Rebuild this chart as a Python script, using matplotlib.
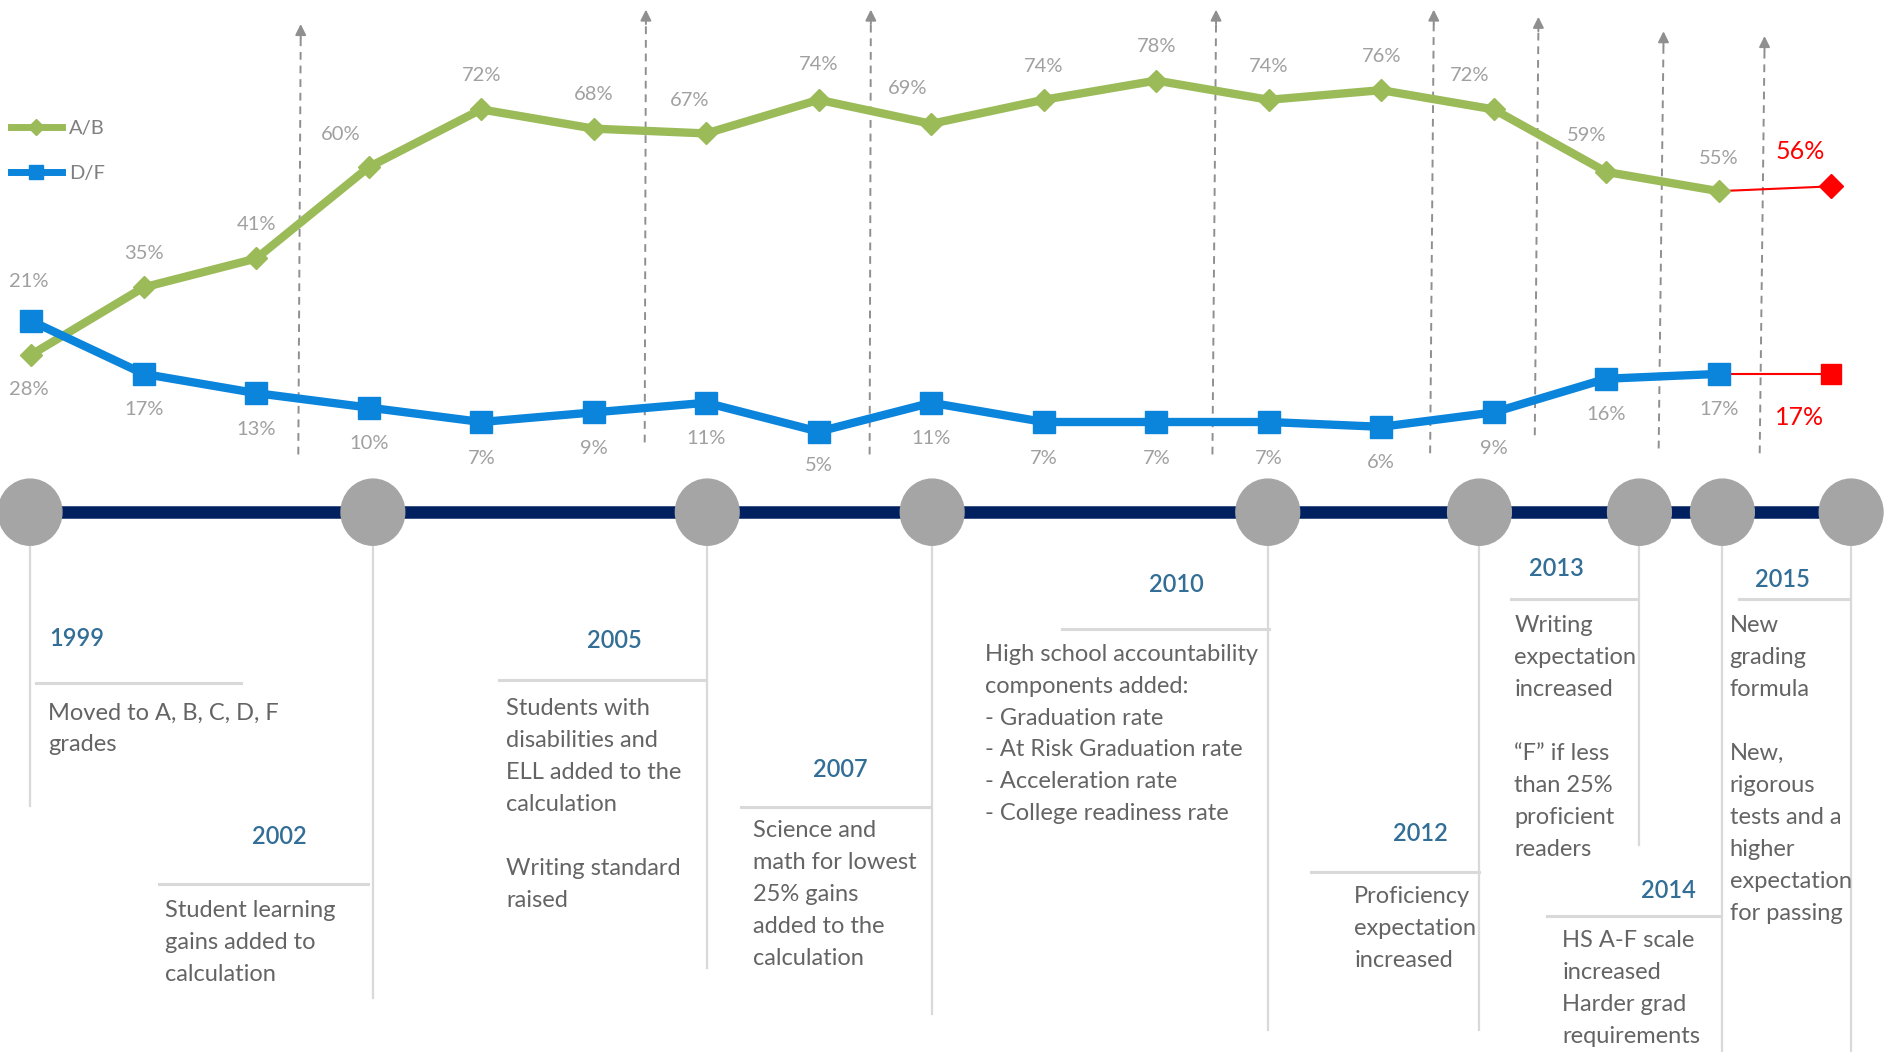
import matplotlib.pyplot as plt
from matplotlib.patches import Ellipse
from matplotlib.lines import Line2D

plt.rcParams['font.family'] = ['Lato', 'DejaVu Sans']

# --- data -------------------------------------------------------------
years = list(range(1999, 2015))
ab_pct = [21, 35, 41, 60, 72, 68, 67, 74, 69, 74, 78, 74, 76, 72, 59, 55]
df_pct = [28, 17, 13, 10, 7, 9, 11, 5, 11, 7, 7, 7, 6, 9, 16, 17]
proj_year = 2015
proj_ab = 56
proj_df = 17

milestone_years = ['1999', '2002', '2005', '2007', '2010', '2012', '2013', '2014', '2015']
milestone_notes = [
    ['Moved to A, B, C, D, F', 'grades'],
    ['Student learning', 'gains added to', 'calculation'],
    ['Students with', 'disabilities and', 'ELL added to the', 'calculation', '',
     'Writing standard', 'raised'],
    ['Science and', 'math for lowest', '25% gains', 'added to the', 'calculation'],
    ['High school accountability', 'components added:', '- Graduation rate',
     '- At Risk Graduation rate', '- Acceleration rate', '- College readiness rate'],
    ['Proficiency', 'expectation', 'increased'],
    ['Writing', 'expectation', 'increased', '', '\u201cF\u201d if less', 'than 25%',
     'proficient', 'readers'],
    ['HS A-F scale', 'increased', 'Harder grad', 'requirements'],
    ['New', 'grading', 'formula', '', 'New,', 'rigorous', 'tests and a', 'higher',
     'expectation', 'for passing'],
]

# --- layout (pixels of a 1568 x 875 canvas) ---------------------------
W, H = 1568, 875
S = 1886 / W
circle_x = [25, 310, 588, 775, 1054, 1230, 1363, 1432, 1539]
stem_end = [670, 830, 805, 843, 857, 857, 703, 875, 875]
rules = [(30, 200, 568), (132, 306, 735), (415, 586, 566), (616, 773, 671),
         (883, 1055, 523), (1090, 1230, 725), (1256, 1362, 498), (1286, 1430, 762),
         (1446, 1538, 498)]
year_pos = [(64, 531), (232, 696), (511, 533), (699, 640), (978, 486), (1181, 693),
            (1294, 473), (1387, 741), (1482, 482)]
note_pos = [(40, 593), (137, 757), (421, 589), (626, 691), (819, 544), (1126, 746),
            (1259, 520), (1299, 782), (1438, 520)]
line_step = 26.6
arrows = [(248, 378, 250, 20), (536, 368, 537, 8), (723, 378, 724, 8),
          (1008, 378, 1011, 8), (1189, 377, 1192, 8), (1276, 362, 1279, 14),
          (1379, 373, 1383, 26), (1463, 377, 1467, 30)]

green = '#9BBB59'
blue = '#0B84DC'
label_grey = '#A0A0A0'
text_grey = '#646464'
year_blue = '#326E96'

fig = plt.figure(figsize=(18.86, 10.52), dpi=100)

# timeline / annotation layer
tl = fig.add_axes([0, 0, 1, 1])
tl.set_xlim(0, W)
tl.set_ylim(H, 0)
tl.axis('off')

for xb, yb, xt, yt in arrows:
    tl.plot([xb, xt], [yb, yt + 10], color='#8F8F8F', lw=1.4, ls=(0, (4, 3)))
    tl.annotate('', xy=(xt, yt), xytext=(xt, yt + 12),
                arrowprops=dict(arrowstyle='-|>', color='#8F8F8F', lw=1.4,
                                mutation_scale=16, shrinkA=0, shrinkB=0))

tl.plot([0, 1540], [426, 426], color='#002060', lw=9, solid_capstyle='butt', zorder=2)
for i, cx in enumerate(circle_x):
    tl.plot([cx, cx], [430, stem_end[i]], color='#D9D9D9', lw=1.6, zorder=1)
    tl.add_patch(Ellipse((cx, 426), 53, 55, color='#A5A5A5', zorder=3))
    x0, x1, ry = rules[i]
    tl.plot([x0, x1], [ry, ry], color='#D9D9D9', lw=2.2, zorder=1)
    yx, yy = year_pos[i]
    tl.text(yx, yy, milestone_years[i], color=year_blue, fontsize=17,
            fontweight='semibold', ha='center', va='center')
    nx, ny = note_pos[i]
    for k, line in enumerate(milestone_notes[i]):
        if line:
            tl.text(nx, ny + k * line_step, line, color=text_grey, fontsize=17,
                    ha='left', va='center')

# chart layer
ax = fig.add_axes([0, 0, 1, 1], zorder=2)
ax.patch.set_visible(False)
x0_px, step_px = 26, 93.53
ax.set_xlim(1999 - x0_px / step_px, 1999 + (W - x0_px) / step_px)
ax.set_ylim((379 - H) / 4, 379 / 4)
ax.axis('off')

ax.plot([years[-1], proj_year], [ab_pct[-1], proj_ab], color='red', lw=1.5, zorder=2)
ax.plot([years[-1], proj_year], [df_pct[-1], proj_df], color='red', lw=1.5, zorder=2)
ax.plot(proj_year, proj_ab, 'D', color='red', ms=12, zorder=3)
ax.plot(proj_year, proj_df, 's', color='red', ms=15, zorder=3)

ax.plot(years, ab_pct, color=green, lw=6, marker='D', ms=11, label='A/B', zorder=4)
ax.plot(years, df_pct, color=blue, lw=6, marker='s', ms=15.5, label='D/F', zorder=4)

ab_dx = [-2, 0, 0, -23, 0, 0, -14, 0, -20, 0, 0, 0, 0, -20, -16, 0]
ab_dy = [61, 28, 28, 27, 28, 28, 27, 29, 29, 28, 28, 28, 28, 28, 30, 27]
df_dy = [-57, -30, -30, -30, -30, -30, -30, -28, -30, -30, -30, -30, -30, -30, -30, -30]
for i, yr in enumerate(years):
    ax.annotate(f'{ab_pct[i]}%', (yr, ab_pct[i]), xytext=(ab_dx[i] * S, ab_dy[i] * S),
                textcoords='offset pixels', ha='center', va='center',
                color=label_grey, fontsize=14.5)
    ax.annotate(f'{df_pct[i]}%', (yr, df_pct[i]), xytext=(-2 * S if i == 0 else 0, df_dy[i] * S),
                textcoords='offset pixels', ha='center', va='center',
                color=label_grey, fontsize=14.5)

ax.annotate(f'{proj_ab}%', (proj_year, proj_ab), xytext=(-26 * S, 29 * S),
            textcoords='offset pixels', ha='center', va='center', color='red', fontsize=18)
ax.annotate(f'{proj_df}%', (proj_year, proj_df), xytext=(-26 * S, -36 * S),
            textcoords='offset pixels', ha='center', va='center', color='red', fontsize=18)

handles = [Line2D([], [], color=green, lw=5, marker='D', ms=8),
           Line2D([], [], color=blue, lw=5, marker='s', ms=10)]
ax.legend(handles, ['A/B', 'D/F'], loc='upper left', bbox_to_anchor=(0.006, 0.886),
          frameon=False, fontsize=14.5, labelcolor='#7F7F7F', handlelength=2.5,
          handletextpad=0.35, labelspacing=1.4, borderpad=0, borderaxespad=0)

fig.savefig('out.png', dpi=100)
